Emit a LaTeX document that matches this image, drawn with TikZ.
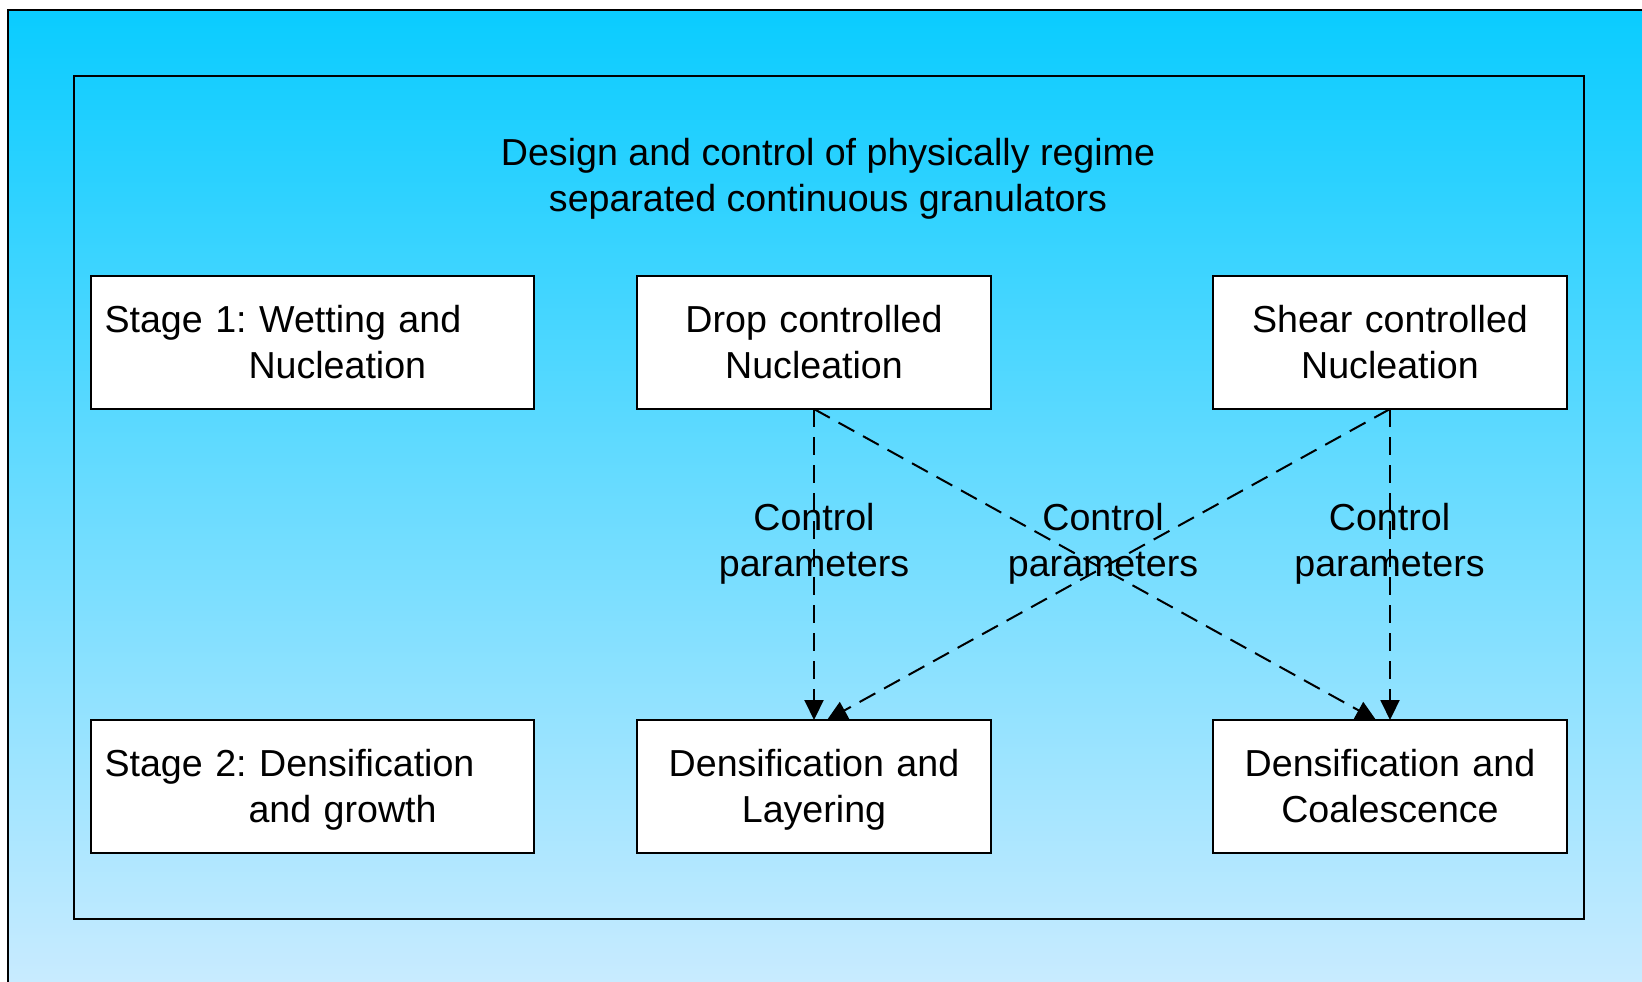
\documentclass[tikz,border=0pt]{standalone}
\usepackage{fontspec}
\setmainfont{Liberation Sans}
\frenchspacing
\usetikzlibrary{arrows.meta}
\definecolor{skytop}{HTML}{0ACCFF}
\definecolor{skymid}{HTML}{8CD9FF}
\definecolor{skybot}{HTML}{C8EBFF}
\tikzstyle{box} = [draw, fill=white, line width=1pt, outer sep=0pt, minimum width=177pt, minimum height=66.5pt, inner xsep=6.75pt, text width=163.5pt, align=center, font=\fontsize{18.8}{23}\selectfont, execute at begin node=\rule{0pt}{16.4pt}, execute at end node=\vphantom{g}]
\tikzstyle{stagebox} = [minimum width=221.5pt, text width=208pt, align=left]
\tikzstyle{flow} = [line width=1pt, dash pattern=on 9pt off 5pt, -{Triangle[length=10pt,width=9.5pt]}]
\tikzstyle{param} = [align=center, font=\fontsize{18.8}{23}\selectfont]

\begin{document}
\begin{tikzpicture}[x=0.5pt, y=-0.5pt]
        \clip (0,0) rectangle (1642,981);
        \fill[white] (0,0) rectangle (1642,981);
        \shade[top color=skytop, middle color=skymid, bottom color=skybot] (8,10) rectangle (1642,981);
        \draw[line width=1pt] (8,10) rectangle (1660,1000);
        \draw[line width=1pt] (74,76) rectangle (1584,919);

        \node[align=center, font=\fontsize{18.8}{23}\selectfont] (title) at (828,179)
            {Design and control of physically regime\\separated continuous granulators};

        \matrix[inner sep=0pt, outer sep=0pt, anchor=north west, row sep=154.5pt, column sep=50.5pt] at (90,275) {
            \node[box, stagebox](11){Stage 1: Wetting and\\\hspace*{72pt}Nucleation}; &
            \node[box](12){Drop controlled\\Nucleation}; &[59.5pt]
            \node[box](13){Shear controlled\\Nucleation}; \\
            \node[box, stagebox](21){Stage 2: Densification\\\hspace*{72pt}and growth}; &
            \node[box](22){Densification and\\Layering}; &
            \node[box](23){Densification and\\Coalescence}; \\
        };

        \draw[flow] (12.south) -- (22.north);
        \draw[flow] (13.south) -- (23.north);
        \draw[flow] (12.south) -- ([xshift=-7pt]23.north);
        \draw[flow] (13.south) -- ([xshift=6.5pt]22.north);

        \node[param] (c1) at (814,543.5) {Control\\parameters};
        \node[param] (c2) at (1103,543.5) {Control\\parameters};
        \node[param] (c3) at (1389.5,543.5) {Control\\parameters};
    \end{tikzpicture}
\end{document}
